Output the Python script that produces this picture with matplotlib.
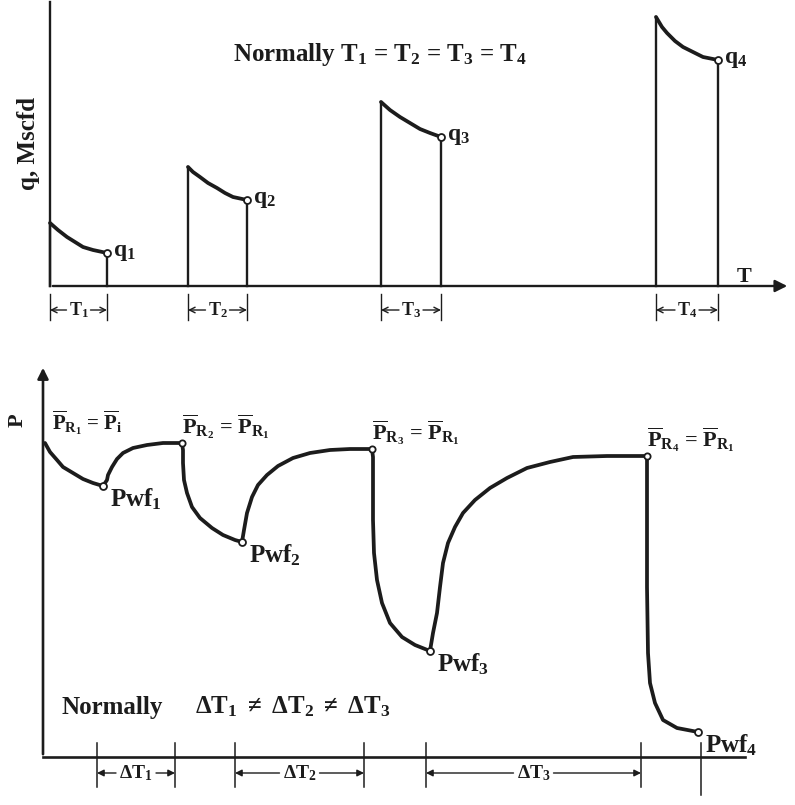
import matplotlib
matplotlib.use("Agg")
import matplotlib.pyplot as plt

# ==============================
# DATOS (unidades arbitrarias)
# ==============================

# panel superior: caudal q vs tiempo T
flow_start = [0.0, 13.8, 33.1, 60.6]
flow_end = [5.7, 19.7, 39.1, 66.8]
q_t = [
    [0.0, 0.8, 1.7, 2.5, 3.3, 4.3, 5.7],
    [13.8, 14.3, 15.0, 15.8, 16.7, 17.5, 18.3, 19.7],
    [33.1, 34.0, 35.0, 36.0, 37.0, 38.0, 39.1],
    [60.6, 61.2, 61.7, 62.5, 63.3, 64.3, 65.3, 66.8],
]
q_val = [
    [6.3, 5.6, 4.9, 4.4, 3.9, 3.6, 3.3],
    [11.9, 11.4, 10.9, 10.3, 9.8, 9.3, 8.9, 8.6],
    [18.4, 17.6, 16.9, 16.3, 15.7, 15.3, 14.9],
    [26.9, 25.9, 25.3, 24.5, 23.9, 23.4, 22.9, 22.6],
]
q_labels = ["q$_1$", "q$_2$", "q$_3$", "q$_4$"]
T_labels = ["T$_1$", "T$_2$", "T$_3$", "T$_4$"]

# panel inferior: presion vs tiempo
p_t = [0.2, 0.7, 1.4, 2.0, 3.0, 4.0, 5.0, 6.0,
       6.4, 6.5, 6.9, 7.4, 8.0, 9.0, 10.4, 12.0, 13.9,
       14.0, 14.0, 14.1, 14.4, 14.9, 15.7, 16.9, 18.0, 19.2, 19.9,
       20.1, 20.4, 20.9, 21.5, 22.4, 23.5, 25.0, 26.7, 28.7, 30.7, 32.9,
       33.0, 33.0, 33.0, 33.1, 33.4, 33.9, 34.7, 35.9, 37.2, 38.7,
       39.0, 39.4, 39.7, 40.0, 40.5, 41.2, 42.0, 43.2, 44.7, 46.4, 48.4,
       50.7, 53.0, 56.4, 60.4,
       60.4, 60.4, 60.4, 60.5, 60.7, 61.2, 62.0, 63.4, 65.5]
p_val = [31.4, 30.5, 29.7, 29.0, 28.4, 27.8, 27.4, 27.1,
         27.7, 28.2, 29.0, 29.8, 30.4, 30.9, 31.2, 31.4, 31.4,
         30.7, 29.4, 27.7, 26.4, 25.0, 23.9, 22.9, 22.2, 21.7, 21.5,
         22.7, 24.4, 26.0, 27.2, 28.2, 29.1, 29.9, 30.4, 30.7, 30.8, 30.8,
         30.0, 27.0, 23.7, 20.4, 17.7, 15.4, 13.4, 12.0, 11.2, 10.6,
         12.4, 14.4, 17.0, 19.4, 21.4, 23.0, 24.4, 25.7, 26.9, 27.9, 28.9,
         29.5, 30.0, 30.1, 30.1,
         29.4, 23.7, 17.0, 10.4, 7.4, 5.4, 3.7, 2.9, 2.5]
pwf_t = [6.0, 19.9, 38.7, 65.5]
pwf_p = [27.1, 21.5, 10.6, 2.5]
pr_t = [13.9, 32.9, 60.4]
pr_p = [31.4, 30.8, 30.1]
ticks_t = [5.4, 13.2, 19.2, 32.1, 38.3, 59.8, 65.8]
dT_pairs = [(5.4, 13.2), (19.2, 32.1), (38.3, 59.8)]
dT_labels = [r"$\Delta$T$_1$", r"$\Delta$T$_2$", r"$\Delta$T$_3$"]

# ==============================
# ESTILO
# ==============================

plt.rcParams["font.family"] = ["Liberation Serif", "DejaVu Serif"]
plt.rcParams["font.weight"] = "bold"
plt.rcParams["mathtext.fontset"] = "custom"
plt.rcParams["mathtext.rm"] = "Liberation Serif:bold"
plt.rcParams["mathtext.it"] = "Liberation Serif:bold"
plt.rcParams["mathtext.bf"] = "Liberation Serif:bold"
ink = "#1c1c1c"

W, H = 795, 805
fig = plt.figure(figsize=(W / 100, H / 100), dpi=100)

# ==============================
# PANEL SUPERIOR
# ==============================

ax1 = fig.add_axes([50 / W, (H - 286) / H, 740 / W, 286 / H])
ax1.set_xlim(0, 74)
ax1.set_ylim(0, 28.6)
ax1.axis("off")

ax1.annotate("", xy=(74, 0), xytext=(0, 0),
             arrowprops=dict(arrowstyle="-|>", color=ink, lw=1.7,
                             mutation_scale=18), annotation_clip=False)
ax1.plot([0, 0], [0, 28.4], color=ink, lw=1.7, clip_on=False)

for i in range(4):
    xs = [flow_start[i]] + q_t[i] + [flow_end[i]]
    ys = [0] + q_val[i] + [0]
    ax1.plot(xs[:2], ys[:2], color=ink, lw=1.7, clip_on=False)
    ax1.plot(xs[1:-1], ys[1:-1], color=ink, lw=2.7, solid_capstyle="round",
             solid_joinstyle="round", clip_on=False)
    ax1.plot(xs[-2:], ys[-2:], color=ink, lw=1.7, clip_on=False)
    ax1.plot(q_t[i][-1], q_val[i][-1], "o", ms=5, mfc="white", mec=ink,
             mew=1.3, clip_on=False, zorder=5)
    ax1.text(q_t[i][-1] + 0.6, q_val[i][-1] + 0.1, q_labels[i], fontsize=17,
             ha="left", va="center", color=ink)

    # cotas T_i bajo el eje
    a, b = flow_start[i], flow_end[i]
    c = (a + b) / 2
    for xb in (a, b):
        ax1.plot([xb, xb], [-0.8, -3.4], color=ink, lw=1.0, clip_on=False)
    ax1.text(c, -2.4, T_labels[i], fontsize=13, ha="center", va="center",
             color=ink)
    for xb, xt in ((a, c - 1.2), (b, c + 1.2)):
        ax1.annotate("", xy=(xb, -2.4), xytext=(xt, -2.4),
                     arrowprops=dict(arrowstyle="->", color=ink, lw=1.0,
                                     shrinkA=0, shrinkB=0),
                     annotation_clip=False)

ax1.text(33.0, 23.1, "Normally T$_1$ = T$_2$ = T$_3$ = T$_4$", fontsize=18,
         ha="center", va="center", color=ink)
ax1.text(68.7, 0.9, "T", fontsize=16, ha="left", va="center", color=ink)
ax1.text(-2.2, 14.3, "q, Mscfd", fontsize=18, rotation=90, ha="center",
         va="center", color=ink)

# ==============================
# PANEL INFERIOR
# ==============================

ax2 = fig.add_axes([43 / W, 48 / H, 702 / W, 392 / H])
ax2.set_xlim(0, 70.2)
ax2.set_ylim(0, 39.2)
ax2.axis("off")

ax2.plot([0, 70.2], [0, 0], color=ink, lw=1.9, clip_on=False)
ax2.annotate("", xy=(0, 39.2), xytext=(0, 0),
             arrowprops=dict(arrowstyle="-|>", color=ink, lw=1.9,
                             mutation_scale=16), annotation_clip=False)

ax2.plot(p_t, p_val, color=ink, lw=2.7, solid_joinstyle="round",
         solid_capstyle="round", clip_on=False)
ax2.plot(pwf_t, pwf_p, "o", ms=5, mfc="white", mec=ink, mew=1.3,
         clip_on=False, zorder=5)
ax2.plot(pr_t, pr_p, "o", ms=4.5, mfc="white", mec=ink, mew=1.3,
         clip_on=False, zorder=5)

for xt in ticks_t:
    bottom = -3.8 if xt == ticks_t[-1] else -3.0
    ax2.plot([xt, xt], [1.4, bottom], color=ink, lw=1.1, clip_on=False)

for (a, b), lab in zip(dT_pairs, dT_labels):
    c = (a + b) / 2
    half = 2.0
    ax2.text(c, -1.6, lab, fontsize=14, ha="center", va="center", color=ink)
    for xb, xt in ((a, c - half), (b, c + half)):
        ax2.annotate("", xy=(xb, -1.6), xytext=(xt, -1.6),
                     arrowprops=dict(arrowstyle="-|>", color=ink, lw=1.0,
                                     shrinkA=0, shrinkB=0, mutation_scale=10),
                     annotation_clip=False)

pwf_labels = ["Pwf$_1$", "Pwf$_2$", "Pwf$_3$", "Pwf$_4$"]
for x, y, lab in zip(pwf_t, pwf_p, pwf_labels):
    ax2.text(x + 0.7, y - 1.3, lab, fontsize=18, ha="left", va="center",
             color=ink)

ax2.text(0.9, 33.4, r"$\overline{\mathrm{P}}_{\mathrm{R}_1}$ = $\overline{\mathrm{P}}_\mathrm{i}$",
         fontsize=15, ha="left", va="center", color=ink)
pr_labels = [r"$\overline{\mathrm{P}}_{\mathrm{R}_2}$ = $\overline{\mathrm{P}}_{\mathrm{R}_1}$",
             r"$\overline{\mathrm{P}}_{\mathrm{R}_3}$ = $\overline{\mathrm{P}}_{\mathrm{R}_1}$",
             r"$\overline{\mathrm{P}}_{\mathrm{R}_4}$ = $\overline{\mathrm{P}}_{\mathrm{R}_1}$"]
for x, y, lab in zip(pr_t, pr_p, pr_labels):
    ax2.text(x, y + 1.6, lab, fontsize=16, ha="left", va="center",
             color=ink)

ax2.text(-2.5, 33.7, "P", fontsize=16, rotation=90, ha="center",
         va="center", color=ink)
ax2.text(1.8, 5.0, "Normally", fontsize=18, ha="left", va="center", color=ink)
ax2.text(15.2, 5.0, r"$\Delta$T$_1$ $\neq$ $\Delta$T$_2$ $\neq$ $\Delta$T$_3$",
         fontsize=18, ha="left", va="center", color=ink)

fig.savefig("out.png", dpi=100, facecolor="white")
